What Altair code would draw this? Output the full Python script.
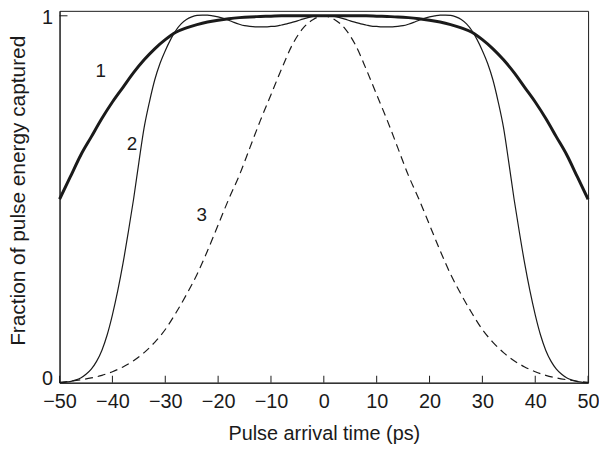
import altair as alt
import pandas as pd

# ---- data ----
x1 = [-50, -48, -46, -44, -42, -40, -38, -36, -34, -32, -30, -28, -26, -24, -22, -20, -18, -16, -14, -12, -10, -8, -6, -4, -2,
      0, 2, 4, 6, 8, 10, 12, 14, 16, 18, 20, 22, 24, 26, 28, 30, 32, 34, 36, 38, 40, 42, 44, 46, 48, 50]
y1 = [0.50, 0.56, 0.62, 0.67, 0.72, 0.765, 0.805, 0.845, 0.88, 0.91, 0.935, 0.955, 0.967, 0.976, 0.983, 0.988, 0.992, 0.995, 0.997, 0.998, 0.999, 1.0, 1.0, 1.0, 1.0,
      1.0, 1.0, 1.0, 1.0, 1.0, 0.999, 0.998, 0.997, 0.995, 0.992, 0.988, 0.983, 0.976, 0.967, 0.955, 0.935, 0.91, 0.88, 0.845, 0.805, 0.765, 0.72, 0.67, 0.62, 0.56, 0.50]

x2 = list(range(-50, 51))
y2 = [0.0, 0.001, 0.003, 0.007, 0.013, 0.023, 0.037, 0.058, 0.088, 0.13, 0.185, 0.25, 0.325, 0.41, 0.50, 0.60, 0.695, 0.765, 0.825, 0.87,
      0.905, 0.935, 0.96, 0.978, 0.99, 0.997, 1.001, 1.002, 1.002, 1.0, 0.997, 0.993, 0.988, 0.982, 0.977, 0.973, 0.971, 0.970, 0.970, 0.970,
      0.971, 0.972, 0.975, 0.978, 0.982, 0.986, 0.991, 0.995, 0.998, 0.9995,
      1.0,
      0.9995, 0.998, 0.995, 0.991, 0.986, 0.982, 0.978, 0.975, 0.972, 0.971,
      0.970, 0.970, 0.970, 0.971, 0.973, 0.977, 0.982, 0.988, 0.993, 0.997,
      1.0, 1.002, 1.002, 1.001, 0.997, 0.99, 0.978, 0.96, 0.935, 0.905,
      0.87, 0.825, 0.765, 0.695, 0.60, 0.50, 0.41, 0.325, 0.25, 0.185,
      0.13, 0.088, 0.058, 0.037, 0.023, 0.013, 0.007, 0.003, 0.001, 0.0]

x3 = x1
y3 = [0.001, 0.004, 0.008, 0.013, 0.02, 0.03, 0.043, 0.06, 0.082, 0.11, 0.145, 0.19, 0.24, 0.295, 0.36, 0.43, 0.50, 0.565, 0.64, 0.715, 0.785, 0.855, 0.92, 0.965, 0.99,
      1.0, 0.99, 0.965, 0.92, 0.855, 0.785, 0.715, 0.64, 0.565, 0.50, 0.43, 0.36, 0.295, 0.24, 0.19, 0.145, 0.11, 0.082, 0.06, 0.043, 0.03, 0.02, 0.013, 0.008, 0.004, 0.001]

label_text = ["1", "2", "3"]
label_x = [-42.2, -36.3, -23.1]
label_y = [0.85, 0.65, 0.458]

x_ticks = [-50, -40, -30, -20, -10, 0, 10, 20, 30, 40, 50]
y_ticks = [0, 1]

W, H = 533, 375
FONT = "Liberation Sans"
INK = "#1a1a1a"

df1 = pd.DataFrame({"t": x1, "f": y1})
df2 = pd.DataFrame({"t": x2, "f": y2})
df3 = pd.DataFrame({"t": x3, "f": y3})
dlab = pd.DataFrame({"t": label_x, "f": label_y, "s": label_text})
dxt = pd.DataFrame({"t": x_ticks})
dyt = pd.DataFrame({"f": [1]})

xs = alt.Scale(domain=[-50, 50], nice=False)
ys = alt.Scale(domain=[0, 1.0135], nice=False)

xenc = alt.X("t:Q", scale=xs, axis=alt.Axis(values=x_ticks, title="Pulse arrival time (ps)", format="d",
                                             labelFlush=False, labelPadding=9, titleY=57,
                                             titleBaseline="alphabetic"))
yenc = alt.Y("f:Q", scale=ys, axis=alt.Axis(values=y_ticks, title="Fraction of pulse energy captured", format="d",
                                             labelPadding=7, titleX=-35, titleY=181, titleBaseline="alphabetic",
                                             titleFontSize=21,
                                             labelOffset=alt.ExprRef(expr="datum.value == 0 ? -4 : 2")))

c1 = alt.Chart(df1).mark_line(color=INK, strokeWidth=3, interpolate="monotone").encode(x=xenc, y=yenc)
c2 = alt.Chart(df2).mark_line(color=INK, strokeWidth=1.2, interpolate="monotone").encode(x="t:Q", y="f:Q")
c3 = alt.Chart(df3).mark_line(color=INK, strokeWidth=1.2, strokeDash=[8, 5], interpolate="monotone").encode(x="t:Q", y="f:Q")
labels = alt.Chart(dlab).mark_text(font=FONT, fontSize=19, color=INK, align="center", baseline="middle").encode(
    x="t:Q", y="f:Q", text="s:N")
xt = alt.Chart(dxt).mark_rule(color=INK, strokeWidth=1).encode(x="t:Q", y=alt.value(H), y2=alt.value(H - 7))
yt = alt.Chart(dyt).mark_rule(color=INK, strokeWidth=1).encode(y="f:Q", x=alt.value(0), x2=alt.value(8))

chart = alt.layer(c1, c2, c3, labels, xt, yt).properties(
    width=W, height=H,
    autosize=alt.AutoSizeParams(type="none"),
    padding={"left": 52, "top": 1, "right": 11, "bottom": 64},
    background="white",
).configure_view(stroke=INK, strokeWidth=1).configure_axis(
    ticks=False, grid=False, domainColor=INK, domainWidth=1,
    labelFont=FONT, labelFontSize=20, labelColor=INK,
    titleFont=FONT, titleFontSize=20, titleFontWeight="normal", titleColor=INK,
)

chart.save("out.html", embed_options={"renderer": "svg", "actions": False})
